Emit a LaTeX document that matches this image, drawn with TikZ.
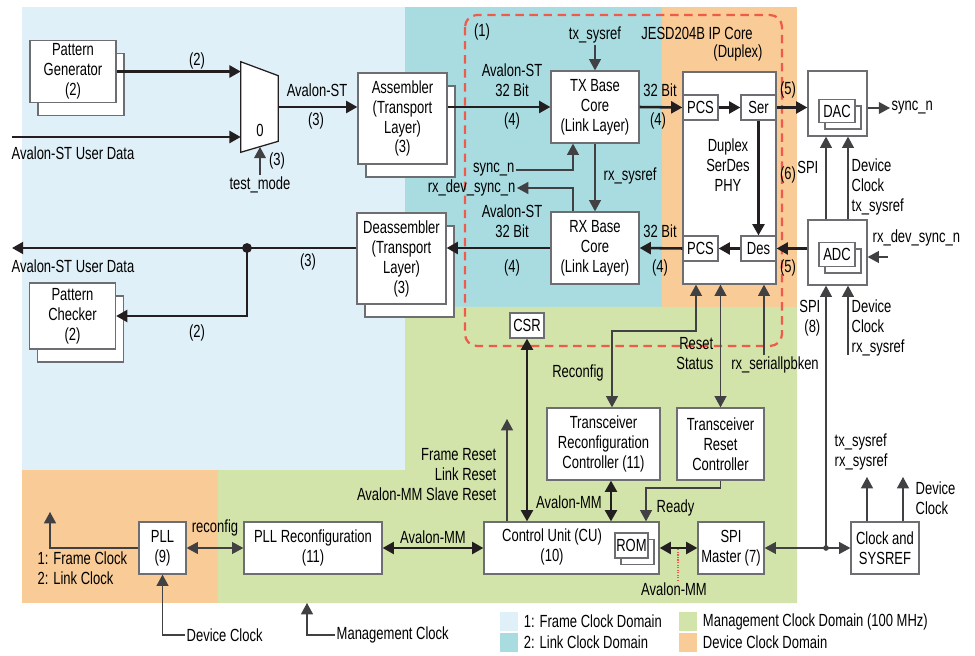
\documentclass[tikz,border=0pt]{standalone}
\usepackage{fontspec}
\setmainfont{Liberation Sans}[FakeStretch=0.74]
\usepackage{tikz}
\usetikzlibrary{arrows.meta, positioning, shadows}
\definecolor{frameblue}{HTML}{DFF0F8}
\definecolor{linkteal}{HTML}{A9DCE1}
\definecolor{devorange}{HTML}{F8CB97}
\definecolor{mgmtgreen}{HTML}{D3E4AA}
\definecolor{ipred}{HTML}{EF5B4B}
\definecolor{boxgray}{HTML}{6D6E71}
\definecolor{linedark}{HTML}{231F20}
\definecolor{sigdark}{HTML}{414042}

\begin{document}
\begin{tikzpicture}[
    x=0.025cm, y=-0.025cm,
    font=\fontsize{12.5}{14.2}\selectfont,
    >={Triangle[length=8pt, width=8.5pt]},
    box/.style={draw=boxgray, fill=white, line width=0.9pt,
                inner sep=0pt, align=center},
    stackbox/.style={box, copy shadow={shadow xshift=0.2cm,
                shadow yshift=-0.325cm, draw=boxgray, fill=white}},
    smallstack/.style={box, copy shadow={shadow xshift=0.15cm,
                shadow yshift=-0.16cm, draw=boxgray, fill=white}},
    lbl/.style={inner sep=1pt, align=center},
    swatch/.style={minimum width=0.45cm, minimum height=0.475cm,
                inner sep=0pt},
    arr/.style={->, line width=1.8pt, draw=linedark},
    barr/.style={<->, line width=1.8pt, draw=linedark},
    sig/.style={->, line width=0.8pt, draw=sigdark},
    bsig/.style={<->, line width=0.8pt, draw=sigdark},
  ]
    \useasboundingbox (0,0) rectangle (975,656);

    % Clock domains
    \fill[frameblue] (22,7) rectangle (405,470);
    \fill[linkteal] (405,7) rectangle (662,307);
    \fill[devorange] (662,7) rectangle (797,307);
    \fill[devorange] (22,470) rectangle (218,603);
    \fill[mgmtgreen] (405,307) -- (797,307) -- (797,603) -- (218,603)
      -- (218,470) -- (405,470) -- cycle;

    % IP core outline
    \draw[ipred, line width=1.6pt, dash pattern=on 6pt off 4pt,
          rounded corners=0.3cm] (465,15) rectangle (782,346);
    \node[lbl] (ipone) at (482,32) {(1)};
    \node[lbl] (iptitle) at (697,33) {JESD204B IP Core};
    \node[lbl] (ipdup) at (738,53) {(Duplex)};

    % Test pattern blocks and mux
    \node[stackbox, minimum width=2.15cm, minimum height=1.55cm] (pg)
      at (73,71.5) {Pattern\\Generator\\(2)};
    \node[stackbox, minimum width=2.15cm, minimum height=1.65cm] (pc)
      at (72.5,316) {Pattern\\Checker\\(2)};
    \node[minimum width=0.925cm, minimum height=2.25cm, inner sep=0pt] (mux)
      at (259.5,107) {};
    \draw[draw=linedark, fill=white, line width=0.9pt] (mux.north west)
      -- ([yshift=-0.35cm]mux.north east) -- ([yshift=0.275cm]mux.south east)
      -- (mux.south west) -- cycle;
    \node[lbl] (muxzero) at (260,130) {0};
    \coordinate (muxsel) at (260,147);
    \coordinate (udin) at (12,137);
    \coordinate (udout) at (12,248);
    \coordinate (jn) at (247,248);

    % Transport layer
    \node[stackbox, minimum width=2.225cm, minimum height=2.275cm] (asm)
      at (402.5,118.5) {Assembler\\(Transport\\Layer)\\(3)};
    \node[stackbox, minimum width=2.225cm, minimum height=2.275cm] (dasm)
      at (401.5,258.5) {Deassembler\\(Transport\\Layer)\\(3)};

    % Link layer
    \node[box, minimum width=2.2cm, minimum height=1.8cm] (tx)
      at (595,107) {TX Base\\Core\\(Link Layer)};
    \node[box, minimum width=2.2cm, minimum height=1.8cm] (rx)
      at (595,248) {RX Base\\Core\\(Link Layer)};

    % PHY
    \node[box, minimum width=2.325cm, minimum height=5.3cm] (phy)
      at (729.5,178) {};
    \node[lbl] (phytxt) at (728,165) {Duplex\\SerDes\\PHY};
    \node[box, minimum width=0.875cm, minimum height=0.625cm] (pcst)
      at (700.5,107.5) {PCS};
    \node[box, minimum width=0.875cm, minimum height=0.625cm] (ser)
      at (758.5,107.5) {Ser};
    \node[box, minimum width=0.875cm, minimum height=0.625cm] (pcsr)
      at (700.5,248.5) {PCS};
    \node[box, minimum width=0.875cm, minimum height=0.625cm] (des)
      at (758.5,248.5) {Des};

    % Converters
    \node[box, minimum width=1.475cm, minimum height=1.625cm] (dac)
      at (837.5,103.5) {};
    \node[smallstack, minimum width=0.9cm, minimum height=0.575cm] (dacin)
      at (837,111) {DAC};
    \node[box, minimum width=1.475cm, minimum height=1.625cm] (adc)
      at (837.5,252.5) {};
    \node[smallstack, minimum width=0.9cm, minimum height=0.6cm] (adcin)
      at (837,254.5) {ADC};

    % Management blocks
    \node[box, minimum width=0.85cm, minimum height=0.625cm] (csr)
      at (527,325.5) {CSR};
    \node[box, minimum width=2.825cm, minimum height=1.8cm] (trc)
      at (603.5,444) {Transceiver\\Reconfiguration\\Controller (11)};
    \node[box, minimum width=2.175cm, minimum height=1.8cm] (trs)
      at (720.5,444) {Transceiver\\Reset\\Controller};
    \node[box, minimum width=4.375cm, minimum height=1.3cm] (cu)
      at (571.5,548) {};
    \node[lbl] (cutxt) at (552,547) {Control Unit (CU)\\(10)};
    \node[smallstack, minimum width=0.825cm, minimum height=0.625cm] (rom)
      at (631.5,545.5) {ROM};
    \node[box, minimum width=1.65cm, minimum height=1.3cm] (spi)
      at (731,548) {SPI\\Master (7)};
    \node[box, minimum width=1.7cm, minimum height=1.3cm] (cs)
      at (885,548) {Clock and\\SYSREF};
    \node[box, minimum width=1.175cm, minimum height=1.3cm] (pll)
      at (162.5,548) {PLL\\(9)};
    \node[box, minimum width=3.45cm, minimum height=1.3cm] (pllr)
      at (313,548) {PLL Reconfiguration\\(11)};

    % Labels
    \node[lbl] (pgtag) at (197,61) {(2)};
    \node[lbl, anchor=west] (udintxt) at (10,153) {Avalon-ST User Data};
    \node[lbl] (tmode) at (260,185) {test\_mode};
    \node[lbl] (tmtag) at (277,161) {(3)};
    \node[lbl] (muxst) at (317,90) {Avalon-ST};
    \node[lbl] (muxtag) at (316,121) {(3)};
    \node[lbl] (txst) at (512,80) {Avalon-ST\\32 Bit};
    \node[lbl] (txtag) at (512,121) {(4)};
    \node[lbl] (txbit) at (660,90) {32 Bit};
    \node[lbl] (phytag) at (658,121) {(4)};
    \node[lbl] (sertag) at (788,90) {(5)};
    \node[lbl] (lanetag) at (788,175) {(6)};
    \node[lbl] (destag) at (788,268) {(5)};
    \node[lbl] (rxst) at (512,221) {Avalon-ST\\32 Bit};
    \node[lbl] (rxtag) at (512,268) {(4)};
    \node[lbl] (rxbit) at (660,231) {32 Bit};
    \node[lbl] (pcsrtag) at (660,268) {(4)};
    \node[lbl] (dasmtag) at (308,262) {(3)};
    \node[lbl] (pctag) at (197,333) {(2)};
    \node[lbl, anchor=west] (udouttxt) at (10,266) {Avalon-ST User Data};
    \node[lbl] (txsys) at (595,35) {tx\_sysref};
    \node[lbl, anchor=east] (syncn) at (516,170) {sync\_n};
    \node[lbl, anchor=east] (rxdev) at (517,188) {rx\_dev\_sync\_n};
    \node[lbl, anchor=west] (rxsys) at (602,176) {rx\_sysref};
    \node[lbl, anchor=west] (dacsync) at (890,108) {sync\_n};
    \node[lbl, anchor=west] (adcdev) at (871,238) {rx\_dev\_sync\_n};
    \node[lbl, anchor=east] (spitxt) at (820,167) {SPI};
    \node[lbl, anchor=west, align=left] (dclktx) at (850,187)
      {Device\\Clock\\tx\_sysref};
    \node[lbl, anchor=east, align=right] (spiei) at (822,318) {SPI\\(8)};
    \node[lbl, anchor=west, align=left] (dclkrxtxt) at (850,328)
      {Device\\Clock\\rx\_sysref};
    \node[lbl] (rcfgtxt) at (578,373) {Reconfig};
    \node[lbl, anchor=east, align=right] (rststat) at (715,354) {Reset\\Status};
    \node[lbl] (lpbktxt) at (775,365) {rx\_seriallpbken};
    \node[lbl, anchor=east, align=right] (rsttxt) at (498,475)
      {Frame Reset\\Link Reset\\Avalon-MM Slave Reset};
    \node[lbl] (avmmtrc) at (569,502) {Avalon-MM};
    \node[lbl, anchor=west] (rdytxt) at (655,508) {Ready};
    \node[lbl] (avmmspi) at (674,589) {Avalon-MM};
    \node[lbl, anchor=west, align=left] (sysreftxt) at (833,452)
      {tx\_sysref\\rx\_sysref};
    \node[lbl, anchor=west, align=left] (csdev) at (914,498) {Device\\Clock};
    \node[lbl] (rcfgpll) at (215,528) {reconfig};
    \node[lbl] (avmmpll) at (433,537) {Avalon-MM};
    \node[lbl, anchor=west, align=left] (clkout) at (36,568)
      {1: Frame Clock\\2: Link Clock};
    \node[lbl, anchor=west] (devclk) at (185,635) {Device Clock};
    \node[lbl, anchor=west] (mgmtclk) at (335,635) {Management Clock};

    % Free ends and junctions
    \coordinate (adcinp) at (888,257);
    \coordinate (jspi) at (826,548);
    \coordinate (dclkrx) at (848,355);
    \coordinate (rcfg) at (650,331);
    \coordinate (lpbk) at (764,355);
    \coordinate (rst) at (507,419);
    \coordinate (rdy) at (646,488);
    \coordinate (csout1) at (867,477);
    \coordinate (csout2) at (903,477);
    \coordinate (pllout) at (50,512);
    \coordinate (mgmtin) at (307,603);

    % Transmit path
    \draw[arr] (pg.east) -- (pg.east -| mux.west);
    \draw[arr] (udin) -- (udin -| mux.west);
    \draw[sig] (tmode.north) -- (muxsel);
    \draw[arr] (mux.east) -- (mux.east -| asm.west);
    \draw[arr] (tx.west -| asm.east) -- (tx.west);
    \draw[arr] (tx.east) -- (pcst.west);
    \draw[arr] (pcst.east) -- (ser.west);
    \draw[arr] (ser.east) -- (ser.east -| dac.west);
    \draw[arr] (ser.south) -- (des.north);

    % Receive path
    \draw[arr] (adc.west |- des.east) -- (des.east);
    \draw[arr] (des.west) -- (pcsr.east);
    \draw[arr] (pcsr.west) -- (rx.east);
    \draw[arr] (rx.west) -- (rx.west -| dasm.east);
    \draw[arr] (dasm.west |- jn) -- (udout);
    \draw[arr] (jn) |- (pc.east);
    \fill[linedark] (jn) circle (3.5pt);

    % Link layer signals
    \draw[sig] (txsys.south) -- (tx.north);
    \draw[sig] (syncn.east) -| ([xshift=-0.55cm]tx.south);
    \draw[sig] ([xshift=-0.55cm]rx.north) |- (rxdev.east);
    \draw[sig] (tx.south) -- (rx.north);

    % Converter signals
    \draw[sig] (dacsync.west -| dac.east) -- (dacsync.west);
    \draw[sig] (adcinp) -- (adcinp -| adc.east);
    \draw[sig] (jspi |- adc.north) -- (jspi |- dac.south);
    \draw[sig] (dclkrx |- adc.north) -- (dclkrx |- dac.south);
    \draw[sig] (jspi) -- (jspi |- adc.south);
    \draw[sig] (dclkrx) -- (dclkrx |- adc.south);
    \draw[bsig] (spi.east) -- (cs.west);
    \fill[sigdark] (jspi) circle (2pt);
    \draw[sig] (csout1 |- cs.north) -- (csout1);
    \draw[sig] (csout2 |- cs.north) -- (csout2);

    % PHY control
    \draw[bsig] ([xshift=-0.8375cm]phy.south) |- (rcfg)
      -| ([xshift=0.2125cm]trc.north);
    \draw[bsig] (trs.north |- phy.south) -- (trs.north);
    \draw[sig] (lpbk) -- (lpbk |- phy.south);

    % Control unit
    \draw[barr] (csr.south) -- (csr.south |- cu.north);
    \draw[sig] (rst |- cu.north) -- (rst);
    \draw[barr] ([xshift=0.1875cm]trc.south)
      -- ([xshift=0.1875cm]trc.south |- cu.north);
    \draw[sig] (trs.south) |- (rdy) -- (rdy |- cu.north);
    \draw[barr] (cu.east) -- (spi.west);
    \draw[ipred, densely dotted, line width=0.8pt] ([xshift=0.1cm]avmmspi.north)
      -- ([xshift=0.1cm]avmmspi.north |- cu.east);

    % Clocking
    \draw[bsig] (pll.east) -- (pllr.west);
    \draw[barr] (pllr.east) -- (cu.west);
    \draw[sig] (pll.west) -| (pllout);
    \draw[sig] (devclk.west) -| (pll.south);
    \draw[sig] (mgmtclk.west) -| (mgmtin);

    % Legend
    \node[swatch, fill=frameblue] (lgframe) at (509,621.5) {};
    \node[lbl, right=0.1cm of lgframe] (lgframetxt) {1: Frame Clock Domain};
    \node[swatch, fill=linkteal] (lglink) at (509,642) {};
    \node[lbl, right=0.1cm of lglink] (lglinktxt) {2: Link Clock Domain};
    \node[swatch, fill=mgmtgreen] (lgmgmt) at (688,621.5) {};
    \node[lbl, right=0.1cm of lgmgmt] (lgmgmttxt)
      {Management Clock Domain (100 MHz)};
    \node[swatch, fill=devorange] (lgdev) at (688,642) {};
    \node[lbl, right=0.1cm of lgdev] (lgdevtxt) {Device Clock Domain};
  \end{tikzpicture}
\end{document}
